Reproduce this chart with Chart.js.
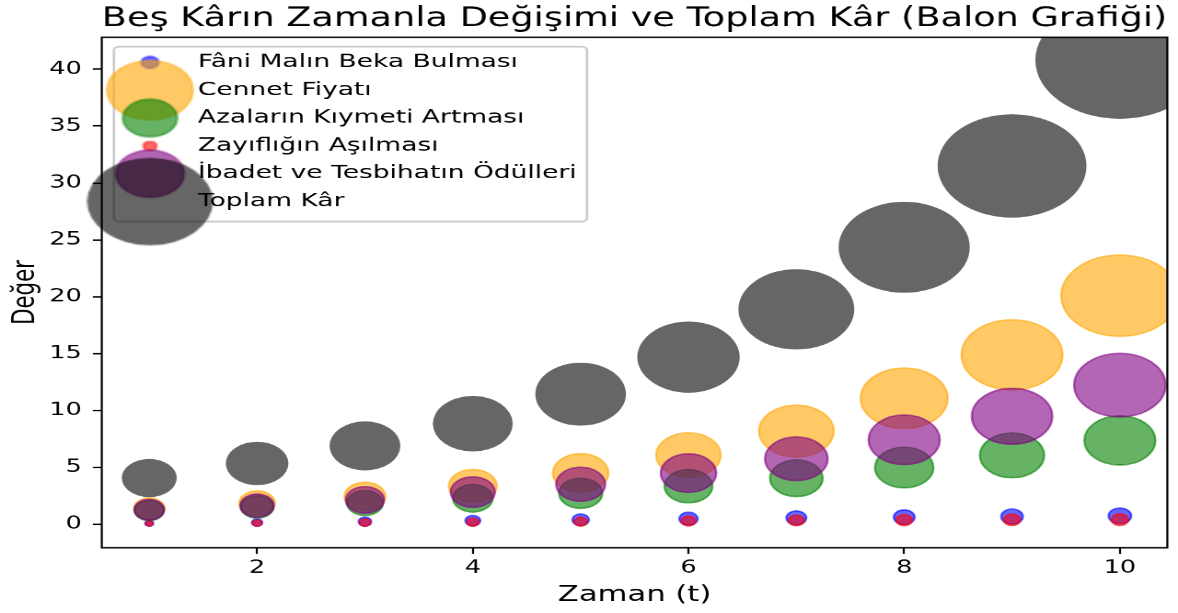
<!DOCTYPE html>
<html>
<head>
<meta charset="utf-8">
<script src="https://cdn.jsdelivr.net/npm/chart.js@4.4.1/dist/chart.umd.min.js"></script>
<style>
  html, body { margin: 0; padding: 0; background: #ffffff; overflow: hidden; }
  #c { display: block; }
</style>
</head>
<body>
<canvas id="c" width="640" height="480" style="width:1178px;height:613px"></canvas>
<script>
// ---- data ----
const zaman = [1, 2, 3, 4, 5, 6, 7, 8, 9, 10];
const seriesNames = [
  'Fâni Malın Beka Bulması',
  'Cennet Fiyatı',
  'Azaların Kıymeti Artması',
  'Zayıflığın Aşılması',
  'İbadet ve Tesbihatın Ödülleri',
  'Toplam Kâr'
];
const faniMal        = [0.10, 0.16, 0.24, 0.33, 0.41, 0.50, 0.58, 0.64, 0.69, 0.75];
const cennetFiyati   = [1.38, 1.86, 2.46, 3.37, 4.52, 6.09, 8.20, 11.08, 14.90, 20.10];
const azalarinKiymet = [1.22, 1.55, 1.88, 2.30, 2.74, 3.36, 4.06, 5.00, 6.07, 7.38];
const zayiflik       = [0.07, 0.12, 0.17, 0.20, 0.24, 0.30, 0.35, 0.38, 0.41, 0.42];
const ibadet         = [1.30, 1.65, 2.15, 2.84, 3.53, 4.51, 5.77, 7.44, 9.50, 12.24];
const toplamKar      = [4.08, 5.36, 6.90, 8.85, 11.45, 14.70, 18.90, 24.35, 31.50, 40.80];
const xTickValues = [2, 4, 6, 8, 10];
const yTickValues = [0, 5, 10, 15, 20, 25, 30, 35, 40];

// ---- styling ----
const FONT = 'DejaVu Sans';
const colors = [
  'rgba(0,0,255,0.6)',
  'rgba(255,165,0,0.6)',
  'rgba(0,128,0,0.6)',
  'rgba(255,0,0,0.6)',
  'rgba(128,0,128,0.6)',
  'rgba(0,0,0,0.6)'
];
const edgeWidths = [1.2, 1.2, 1.2, 1.2, 1.2, 0];
const radiusOf = v => 7.1 * Math.sqrt(v); // area proportional to value
const LEG_FS = 14.4, LEG_PAD = 7.4, LEG_BOXW = 37.6, LEG_TOP = 5.0;

const allSeries = [faniMal, cennetFiyati, azalarinKiymet, zayiflik, ibadet, toplamKar];

// legend markers: matplotlib uses the mean of min and max marker size
function legendMarker(color, vals, edge) {
  const s = 0.5 * (Math.min(...vals) + Math.max(...vals));
  const r = radiusOf(s) + (edge ? 0 : 0.6);
  const size = Math.ceil(2 * r + edge + 2);
  const cv = document.createElement('canvas');
  cv.width = size; cv.height = size;
  const c = cv.getContext('2d');
  c.beginPath();
  c.arc(size / 2, size / 2, r, 0, Math.PI * 2);
  c.fillStyle = color; c.fill();
  if (edge > 0) { c.lineWidth = edge; c.strokeStyle = color; c.stroke(); }
  return cv;
}
const legendMarkers = allSeries.map((vals, i) => legendMarker(colors[i], vals, edgeWidths[i]));

const datasets = allSeries.map((vals, i) => ({
  label: seriesNames[i],
  data: zaman.map((t, j) => ({ x: t, y: vals[j], r: radiusOf(vals[j]) + (edgeWidths[i] ? 0 : 0.6) })),
  backgroundColor: colors[i],
  borderColor: colors[i],
  borderWidth: edgeWidths[i],
  hoverBorderWidth: edgeWidths[i],
  hoverRadius: 0,
  order: allSeries.length - 1 - i,
  clip: 0
}));

const placeLegend = {
  id: 'placeLegend',
  afterLayout(chart) {
    const lg = chart.legend, ca = chart.chartArea;
    if (!lg) return;
    lg.left = ca.left; lg.right = ca.right;
    lg.top = ca.top + LEG_TOP; lg.bottom = ca.bottom;
    lg.width = lg.right - lg.left; lg.height = lg.bottom - lg.top;
    if (typeof lg._draw === 'function') {
      lg.draw = function () { if (this.options.display) this._draw(); };
    }
  },
  beforeDraw(chart) {
    const lg = chart.legend, ca = chart.chartArea;
    if (!lg) return;
    const ctx = chart.ctx;
    ctx.save();
    ctx.font = LEG_FS + 'px "' + FONT + '"';
    let maxW = 0;
    seriesNames.forEach(t => { maxW = Math.max(maxW, ctx.measureText(t).width); });
    const row0 = lg.top + LEG_PAD + LEG_FS / 2;
    const rowN = row0 + (seriesNames.length - 1) * (LEG_FS + LEG_PAD);
    const left = ca.left + 6.6;
    const right = lg.left + LEG_PAD + LEG_BOXW + LEG_FS / 2 + maxW + 5.6;
    const top = row0 - 12.2;
    const bottom = rowN + 15.7;
    ctx.beginPath();
    if (ctx.roundRect) ctx.roundRect(left, top, right - left, bottom - top, 2.8);
    else ctx.rect(left, top, right - left, bottom - top);
    ctx.fillStyle = 'rgba(255,255,255,0.8)';
    ctx.fill();
    ctx.lineWidth = 1.39;
    ctx.strokeStyle = '#cccccc';
    ctx.stroke();
    ctx.restore();
  },
  afterDatasetsDraw(chart) {
    const ca = chart.chartArea, ctx = chart.ctx;
    ctx.save();
    ctx.lineWidth = 1.11;
    ctx.strokeStyle = '#000';
    ctx.strokeRect(ca.left, ca.top, ca.right - ca.left, ca.bottom - ca.top);
    ctx.restore();
  }
};

const tickGrid = {
  display: true, drawOnChartArea: false, drawTicks: true,
  tickLength: 4.86, tickWidth: 1.11, tickColor: '#000', color: '#000'
};

new Chart(document.getElementById('c'), {
  type: 'bubble',
  data: { datasets },
  options: {
    responsive: false,
    devicePixelRatio: 2,
    animation: false,
    events: [],
    layout: { autoPadding: false, padding: { left: 0, top: 0, right: 5.8, bottom: 0 } },
    scales: {
      x: {
        type: 'linear', position: 'bottom', min: 0.56, max: 10.44,
        afterFit: s => { s.height = 51.1; },
        afterBuildTicks: s => { s.ticks = xTickValues.map(v => ({ value: v })); },
        ticks: { font: { family: FONT, size: 13.9 }, color: '#000', padding: 2.6,
                 autoSkip: false, maxRotation: 0, callback: v => String(v) },
        grid: tickGrid,
        border: { display: false },
        title: { display: true, text: 'Zaman (t)', color: '#000',
                 font: { family: FONT, size: 16.67 }, padding: { top: 0, bottom: 3.8 } }
      },
      y: {
        type: 'linear', position: 'left', min: -2.05, max: 42.8,
        afterFit: s => { s.width = 55.3; },
        afterBuildTicks: s => { s.ticks = yTickValues.map(v => ({ value: v })); },
        ticks: { font: { family: FONT, size: 13.9 }, color: '#000', padding: 6,
                 autoSkip: false, callback: v => String(v) },
        grid: tickGrid,
        border: { display: false },
        title: { display: true, text: 'Değer', color: '#000',
                 font: { family: FONT, size: 16.67 }, padding: { top: 4, bottom: 0 } }
      }
    },
    plugins: {
      title: {
        display: true, fullSize: false,
        text: 'Beş Kârın Zamanla Değişimi ve Toplam Kâr (Balon Grafiği)',
        color: '#000',
        font: { family: FONT, size: 21, weight: 'normal' },
        padding: { top: 2.2, bottom: 1.8 }
      },
      legend: {
        display: true, position: 'chartArea', align: 'start',
        labels: {
          usePointStyle: true, pointStyleWidth: LEG_BOXW, padding: LEG_PAD,
          color: '#000', font: { family: FONT, size: LEG_FS },
          generateLabels: chart => chart.data.datasets.map((ds, i) => ({
            text: ds.label, pointStyle: legendMarkers[i],
            fillStyle: ds.backgroundColor, strokeStyle: ds.borderColor,
            lineWidth: 0, hidden: false, datasetIndex: i, fontColor: '#000'
          }))
        }
      },
      tooltip: { enabled: false }
    }
  },
  plugins: [placeLegend]
});
</script>
</body>
</html>
